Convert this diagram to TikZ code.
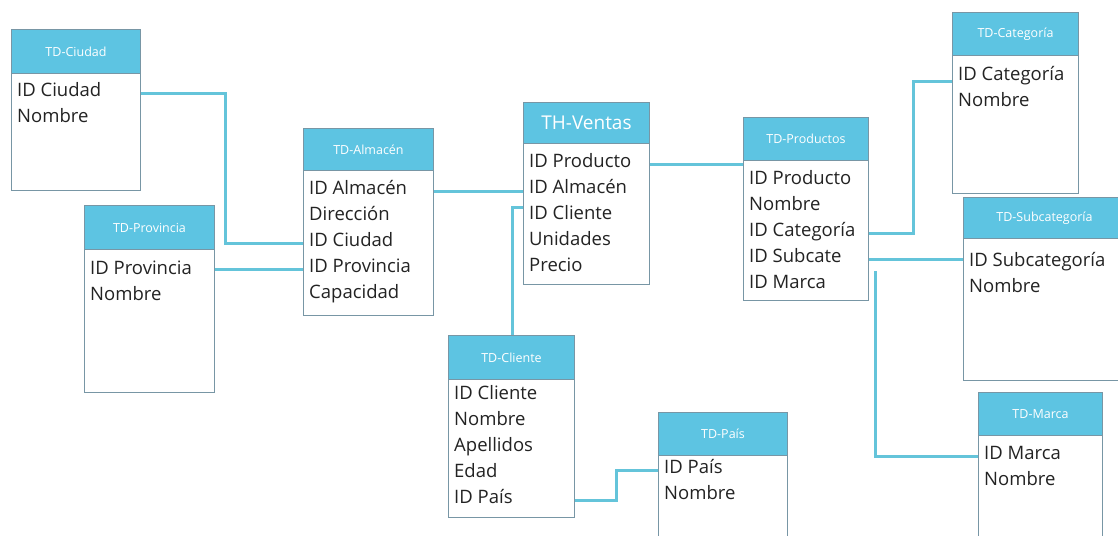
\documentclass[tikz,border=0pt]{standalone}
\usepackage{fontspec}
\setmainfont{Open Sans}
\usetikzlibrary{calc}
\definecolor{cabecera}{RGB}{93,196,226}
\definecolor{borde}{RGB}{120,150,165}
\definecolor{enlace}{RGB}{100,196,218}
\definecolor{texto}{RGB}{35,35,35}
\tikzset{
  hdr/.style={draw=borde, fill=cabecera, line width=1pt, inner sep=0pt, text=white,
    font=\fontsize{12.5}{14}\selectfont},
  cuerpo/.style={draw=borde, fill=white, line width=1pt, inner sep=0pt},
  fila/.style={anchor=base west, inner sep=0pt, text=texto, font=\fontsize{18.5}{22}\selectfont},
  enl/.style={draw=enlace, line width=3pt},
}
% #1 name, #2 left, #3 top, #4 right, #5 header bottom, #6 bottom,
% #7 first row offset, #8 title, #9 rows
\newcommand\tabla[9]{%
  \node[cuerpo, anchor=north west, minimum width={(#4-#2)*1pt},
        minimum height={(#6-#5)*1pt}] (#1-b) at (#2,#5) {};
  \node[hdr, anchor=north west, minimum width={(#4-#2)*1pt},
        minimum height={(#5-#3)*1pt}] (#1) at (#2,#3) {#8};
  \foreach \t [count=\i] in {#9}
    \node[fila] (#1-\i) at ($(#1-b.north west)+(6,#7+6+26*\i-26)$) {\t};
}
\begin{document}
\begin{tikzpicture}[x=1pt,y=-1pt]
  \useasboundingbox (0,0) rectangle (1118,535);
  \fill[white] (0,0) rectangle (1118,535);
  \clip (0,0) rectangle (1118,535);

  % tables
  \tabla{ciu}{11}{29}{140}{73}{190}{17}{TD-Ciudad}{ID Ciudad,Nombre}
  \tabla{pro}{84}{205}{214}{249}{392}{19}{TD-Provincia}{ID Provincia,Nombre}
  \tabla{alm}{303}{128}{433}{170}{315}{18}{TD-Almacén}{ID Almacén,Dirección,ID Ciudad,ID Provincia,Capacidad}
  \tabla{ven}{523}{102}{649}{143}{284}{18}{\fontsize{19}{22}\selectfont TH-Ventas}{ID Producto,ID Almacén,ID Cliente,Unidades,Precio}
  \tabla{cli}{448}{335}{574}{379}{517}{14}{TD-Cliente}{ID Cliente,Nombre,Apellidos,Edad,ID País}
  \tabla{pai}{658}{412}{787}{455}{560}{12}{TD-País}{ID País,Nombre}
  \tabla{prd}{743}{117}{868}{160}{300}{18}{TD-Productos}{ID Producto,Nombre,ID Categoría,ID Subcate,ID Marca}
  \tabla{cat}{952}{12}{1078}{55}{193}{19}{TD-Categoría}{ID Categoría,Nombre}
  \tabla{sub}{963}{197}{1125}{238}{380}{22}{TD-Subcategoría}{ID Subcategoría,Nombre}
  \tabla{mar}{978}{392}{1102}{435}{560}{18}{TD-Marca}{ID Marca,Nombre}

  % relationships
  \draw[enl] (ciu-1.mid -| ciu-b.east) -- ++(84,0) |- (alm-3.mid -| alm-b.west);
  \draw[enl] (pro-b.east |- alm-4.mid) -- (alm-4.mid -| alm-b.west);
  \draw[enl] (alm-1.mid -| alm-b.east) -- (alm-1.mid -| ven-b.west);
  \draw[enl] ($(ven-b.west |- ven-3.mid)+(0,-9)$) -| ($(cli.north west)+(64,0)$);
  \draw[enl] (ven-1.mid -| ven-b.east) -- (ven-1.mid -| prd-b.west);
  \draw[enl] (prd-3.mid -| prd-b.east) -- ++(44,0) |- ($(cat-1.mid -| cat-b.west)+(0,4)$);
  \draw[enl] (prd-4.mid -| prd-b.east) -- (prd-4.mid -| sub-b.west);
  \coordinate (marca-ini) at ($(prd-b.south east)+(6,-30)$);
  \draw[enl] (marca-ini) |- (mar-1.mid -| mar-b.west);
  \draw[enl] (cli-5.mid -| cli-b.east) -- ++(41,0) |- (pai-1.mid -| pai-b.west);
\end{tikzpicture}
\end{document}
